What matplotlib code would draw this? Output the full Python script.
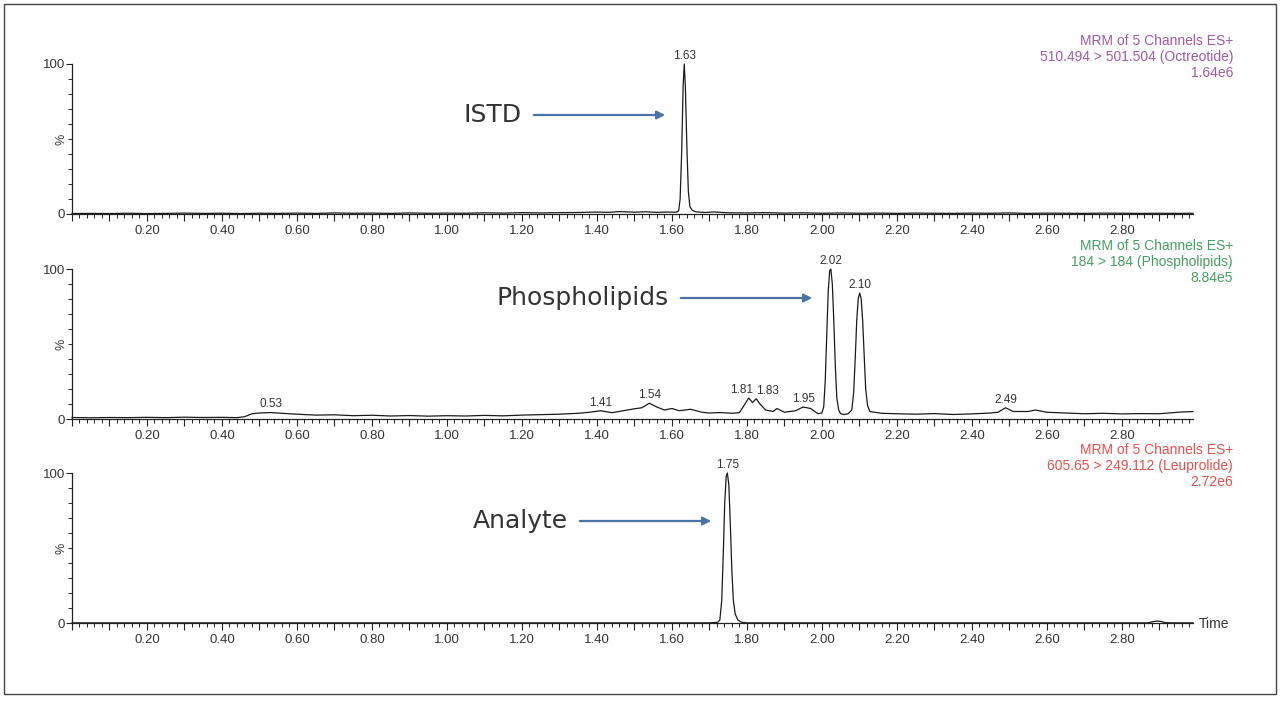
#!/usr/bin/env python3

import matplotlib.pyplot as plt
import matplotlib.ticker as ticker
from matplotlib.patches import Rectangle, FancyArrowPatch

W, H = 1280, 701

# ISTD trace (Octreotide), retention time in min and % of max
istd_rt = [0.00, 0.05, 0.10, 0.15, 0.20, 0.25, 0.30, 0.35, 0.40, 0.45,
           0.50, 0.55, 0.60, 0.65, 0.70, 0.75, 0.80, 0.85, 0.90, 0.95,
           1.00, 1.05, 1.10, 1.15, 1.20, 1.25, 1.30, 1.35, 1.40, 1.43,
           1.46, 1.50, 1.53, 1.56, 1.59, 1.612, 1.618, 1.622, 1.626, 1.630,
           1.633, 1.636, 1.640, 1.644, 1.648, 1.654, 1.662, 1.675, 1.69, 1.71,
           1.75, 1.80, 1.85, 1.90, 1.95, 2.00, 2.05, 2.10, 2.15, 2.20,
           2.25, 2.30, 2.35, 2.40, 2.45, 2.50, 2.55, 2.60, 2.65, 2.70,
           2.75, 2.80, 2.85, 2.90, 2.95, 2.99]
istd_pct = [0.3, 0.4, 0.3, 0.5, 0.3, 0.4, 0.6, 0.4, 0.5, 0.3,
            0.5, 0.4, 0.6, 0.4, 0.7, 0.5, 0.6, 0.4, 0.7, 0.5,
            0.6, 0.5, 0.8, 0.6, 0.9, 0.7, 0.9, 1.0, 1.3, 1.1,
            1.6, 1.2, 1.5, 1.1, 1.3, 1.2, 2.0, 10.0, 40.0, 85.0,
            100.0, 85.0, 45.0, 15.0, 5.0, 2.5, 1.6, 1.2, 1.0, 1.4,
            0.8, 0.7, 0.9, 0.6, 0.8, 0.5, 0.7, 0.5, 0.6, 0.4,
            0.6, 0.5, 0.4, 0.6, 0.5, 0.7, 0.4, 0.6, 0.5, 0.4,
            0.6, 0.5, 0.4, 0.5, 0.4, 0.5]

# Phospholipids trace (184 > 184)
phos_rt = [0.00, 0.05, 0.10, 0.15, 0.20, 0.25, 0.30, 0.35, 0.40, 0.44,
           0.46, 0.48, 0.50, 0.53, 0.56, 0.60, 0.65, 0.70, 0.75, 0.80,
           0.85, 0.90, 0.95, 1.00, 1.05, 1.10, 1.15, 1.20, 1.25, 1.30,
           1.35, 1.38, 1.41, 1.44, 1.47, 1.50, 1.52, 1.54, 1.56, 1.58,
           1.60, 1.62, 1.65, 1.68, 1.70, 1.73, 1.76, 1.78, 1.795, 1.805,
           1.815, 1.825, 1.835, 1.85, 1.87, 1.88, 1.90, 1.93, 1.95, 1.97,
           1.99, 2.000, 2.005, 2.009, 2.013, 2.017, 2.021, 2.024, 2.028, 2.032,
           2.036, 2.040, 2.045, 2.05, 2.06, 2.07, 2.080, 2.085, 2.089, 2.093,
           2.097, 2.101, 2.105, 2.109, 2.113, 2.117, 2.122, 2.128, 2.14, 2.16,
           2.20, 2.25, 2.30, 2.35, 2.40, 2.45, 2.47, 2.49, 2.51, 2.55,
           2.57, 2.60, 2.65, 2.70, 2.75, 2.80, 2.85, 2.90, 2.95, 2.99]
phos_pct = [1.0, 0.8, 1.0, 0.9, 1.1, 0.9, 1.2, 1.0, 1.1, 0.9,
            1.5, 3.5, 4.0, 4.3, 3.8, 3.2, 2.6, 2.8, 2.2, 2.5,
            2.0, 2.3, 1.9, 2.2, 2.0, 2.4, 2.1, 2.6, 2.9, 3.2,
            3.8, 4.5, 5.5, 4.2, 5.5, 6.8, 7.5, 10.5, 8.0, 6.0,
            7.0, 5.5, 6.5, 4.5, 4.0, 4.3, 3.8, 4.2, 10.0, 14.0,
            11.0, 13.5, 10.0, 6.0, 5.0, 7.0, 4.5, 5.5, 8.0, 7.0,
            3.5, 4.0, 8.0, 25.0, 55.0, 85.0, 99.0, 100.0, 90.0, 65.0,
            35.0, 14.0, 6.0, 3.5, 3.0, 3.5, 6.0, 18.0, 40.0, 65.0,
            80.0, 84.0, 80.0, 65.0, 42.0, 20.0, 9.0, 5.0, 4.5, 3.8,
            3.5, 3.2, 3.6, 3.0, 3.4, 4.0, 4.5, 7.5, 5.0, 5.0,
            6.0, 4.5, 4.0, 3.5, 3.8, 3.4, 3.6, 3.5, 4.5, 5.0]

# Analyte trace (Leuprolide)
ana_rt = [0.00, 0.50, 1.00, 1.50, 1.70, 1.722, 1.728, 1.733, 1.737, 1.741,
          1.745, 1.748, 1.752, 1.756, 1.760, 1.764, 1.769, 1.776, 1.786, 1.80,
          2.00, 2.50, 2.87, 2.885, 2.895, 2.905, 2.915, 2.93, 2.99]
ana_pct = [0.1, 0.1, 0.1, 0.1, 0.1, 0.5, 2.0, 15.0, 45.0, 80.0,
           98.0, 100.0, 92.0, 65.0, 35.0, 15.0, 6.0, 2.0, 0.5, 0.1,
           0.1, 0.1, 0.1, 1.0, 1.3, 1.0, 0.3, 0.1, 0.1]

# labelled peaks: (rt, %, label)
istd_peaks = [(1.633, 100.0, '1.63')]
phos_peaks = [(0.53, 4.3, '0.53'), (1.41, 5.5, '1.41'), (1.54, 10.5, '1.54'),
              (1.805, 14.0, '1.81'), (1.825, 13.5, '1.83'), (1.95, 8.0, '1.95'),
              (2.024, 100.0, '2.02'), (2.101, 84.0, '2.10'), (2.49, 7.5, '2.49')]
ana_peaks = [(1.748, 100.0, '1.75')]

headers = [
    ['MRM of 5 Channels ES+', '510.494 > 501.504 (Octreotide)', '1.64e6'],
    ['MRM of 5 Channels ES+', '184 > 184 (Phospholipids)', '8.84e5'],
    ['MRM of 5 Channels ES+', '605.65 > 249.112 (Leuprolide)', '2.72e6'],
]
header_colors = ['#a05aa3', '#459e64', '#e4504f']
names = ['ISTD', 'Phospholipids', 'Analyte']


def fx(x):
    return x / W


def fy(y):
    return 1 - y / H


def tick_fmt(v, pos):
    k = int(round(v * 10))
    if k == 0 or k % 2:
        return ''
    return '%.2f' % v


def setup_axes(ax):
    ax.set_xlim(0, 2.99)
    ax.set_ylim(0, 100)
    for s in ['top', 'right']:
        ax.spines[s].set_visible(False)
    for s in ['left', 'bottom']:
        ax.spines[s].set_linewidth(0.9)
        ax.spines[s].set_color('#222222')
    ax.xaxis.set_major_locator(ticker.MultipleLocator(0.1))
    ax.xaxis.set_minor_locator(ticker.MultipleLocator(0.02))
    ax.xaxis.set_major_formatter(ticker.FuncFormatter(tick_fmt))
    ax.yaxis.set_major_locator(ticker.FixedLocator([0, 100]))
    ax.yaxis.set_minor_locator(ticker.MultipleLocator(10))
    ax.tick_params(which='major', length=5, width=0.8, colors='#222222',
                   labelsize=9.5, labelcolor='#333333', pad=3)
    ax.tick_params(which='minor', length=3, width=0.7, colors='#222222')
    ax.tick_params(axis='y', which='major', length=4, pad=1)
    ax.text(-0.004, 0.5, '%', transform=ax.transAxes, rotation=90,
            ha='right', va='center', fontsize=9, color='#333333')


def plot_chromatograms():
    plt.rcParams['font.family'] = ['Liberation Sans', 'DejaVu Sans']
    fig = plt.figure(figsize=(W / 100, H / 100), dpi=100)

    fig.patches.append(Rectangle((fx(4), fy(694)), fx(1272), 690 / H,
                                 transform=fig.transFigure, fill=False,
                                 ec='#444444', lw=1.0))

    tops = [64, 269, 473]
    traces = [(istd_rt, istd_pct), (phos_rt, phos_pct), (ana_rt, ana_pct)]
    peaks = [istd_peaks, phos_peaks, ana_peaks]
    # annotation layout in pixels: arrow start, arrow end, y
    arrows = [(531, 668, 115), (678, 815, 298), (577, 714, 521)]

    for i in range(3):
        top = tops[i]
        ax = fig.add_axes([fx(72), fy(top + 150), fx(1193) - fx(72), 150 / H])
        setup_axes(ax)
        rt, pct = traces[i]
        ax.plot(rt, pct, color='#1a1a1a', lw=0.9, clip_on=False)

        for x, y, lab in peaks[i]:
            dx = 0
            if lab == '1.83':
                dx = 8
            if lab == '1.81':
                dx = -5
            ax.annotate(lab, (x, y), xytext=(dx, 1.5), textcoords='offset points',
                        ha='center', va='bottom', fontsize=8.5, color='#333333')

        for j, line in enumerate(headers[i]):
            fig.text(fx(1233), fy(top - 23 + 16 * j), line, ha='right',
                     va='center', fontsize=10, color=header_colors[i])

        x0, x1, y = arrows[i]
        fig.text(fx(x0 - 9), fy(y), names[i], ha='right', va='center',
                 fontsize=18, color='#333333', family='DejaVu Sans')
        fig.patches.append(FancyArrowPatch(
            (fx(x0), fy(y)), (fx(x1), fy(y)), transform=fig.transFigure,
            arrowstyle='-|>', mutation_scale=12, color='#4a73a6', lw=1.6))

    fig.text(fx(1199), fy(624), 'Time', ha='left', va='center', fontsize=10,
             color='#333333')

    fig.savefig('out.png', dpi=100)


if __name__ == '__main__':
    plot_chromatograms()
